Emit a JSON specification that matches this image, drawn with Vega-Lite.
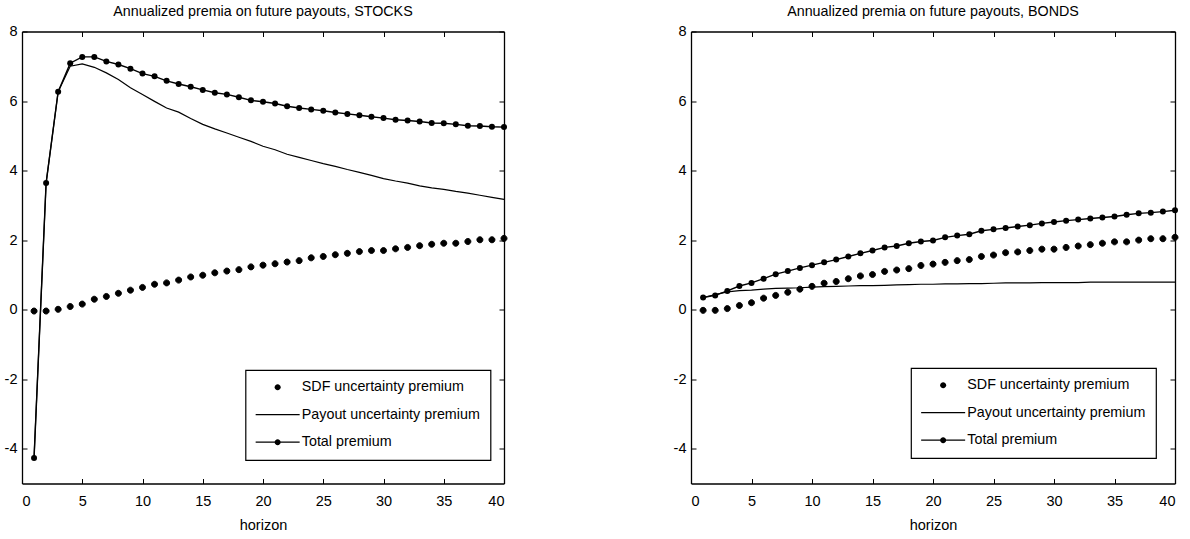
{
  "$schema": "https://vega.github.io/schema/vega-lite/v6.json",
  "padding": {"left": 4, "top": 4.5, "right": 5, "bottom": 0},
  "background": "white",
  "config": {
    "font": "Liberation Sans",
    "view": {"stroke": null},
    "axis": {
      "domainColor": "black", "domainWidth": 1.3, "tickColor": "black", "tickWidth": 1, "tickSize": -5,
      "labelColor": "black", "labelFontSize": 14.5, "labelFont": "Liberation Sans",
      "grid": false, "titleColor": "black", "titleFontSize": 14.5, "titleFontWeight": "normal",
      "titleFont": "Liberation Sans", "minExtent": 0
    },
    "title": {"fontSize": 14.3, "fontWeight": "normal", "color": "black", "font": "Liberation Sans", "anchor": "middle", "baseline": "alphabetic", "offset": 4.5},
    "legend": {
      "strokeColor": "black", "fillColor": "white", "strokeWidth": 1.2, "padding": 10,
      "labelFontSize": 14.3, "labelFont": "Liberation Sans", "labelColor": "black", "labelLimit": 300,
      "symbolSize": 100, "symbolStrokeColor": "black", "symbolFillColor": "black", "symbolStrokeWidth": 1.2, "symbolOpacity": 1,
      "symbolOffset": 15, "labelOffset": 17, "rowPadding": 12.5
    }
  },
  "resolve": {"scale": {"shape": "independent"}, "legend": {"shape": "independent"}},
  "data": {"values": [
    {"p":"STOCKS","h":1,"sdf":-0.04,"pay":-4.25,"tot":-4.27},
    {"p":"STOCKS","h":2,"sdf":-0.04,"pay":3.64,"tot":3.64},
    {"p":"STOCKS","h":3,"sdf":0.01,"pay":6.27,"tot":6.27},
    {"p":"STOCKS","h":4,"sdf":0.09,"pay":7.00,"tot":7.09},
    {"p":"STOCKS","h":5,"sdf":0.16,"pay":7.07,"tot":7.27},
    {"p":"STOCKS","h":6,"sdf":0.30,"pay":6.97,"tot":7.27},
    {"p":"STOCKS","h":7,"sdf":0.38,"pay":6.81,"tot":7.14},
    {"p":"STOCKS","h":8,"sdf":0.47,"pay":6.62,"tot":7.05},
    {"p":"STOCKS","h":9,"sdf":0.56,"pay":6.38,"tot":6.93},
    {"p":"STOCKS","h":10,"sdf":0.64,"pay":6.19,"tot":6.79},
    {"p":"STOCKS","h":11,"sdf":0.73,"pay":5.99,"tot":6.71},
    {"p":"STOCKS","h":12,"sdf":0.77,"pay":5.80,"tot":6.58},
    {"p":"STOCKS","h":13,"sdf":0.85,"pay":5.68,"tot":6.49},
    {"p":"STOCKS","h":14,"sdf":0.94,"pay":5.50,"tot":6.41},
    {"p":"STOCKS","h":15,"sdf":0.99,"pay":5.33,"tot":6.32},
    {"p":"STOCKS","h":16,"sdf":1.06,"pay":5.20,"tot":6.24},
    {"p":"STOCKS","h":17,"sdf":1.11,"pay":5.08,"tot":6.19},
    {"p":"STOCKS","h":18,"sdf":1.15,"pay":4.96,"tot":6.11},
    {"p":"STOCKS","h":19,"sdf":1.23,"pay":4.84,"tot":6.02},
    {"p":"STOCKS","h":20,"sdf":1.28,"pay":4.70,"tot":5.98},
    {"p":"STOCKS","h":21,"sdf":1.32,"pay":4.60,"tot":5.93},
    {"p":"STOCKS","h":22,"sdf":1.37,"pay":4.47,"tot":5.85},
    {"p":"STOCKS","h":23,"sdf":1.41,"pay":4.38,"tot":5.80},
    {"p":"STOCKS","h":24,"sdf":1.49,"pay":4.29,"tot":5.76},
    {"p":"STOCKS","h":25,"sdf":1.53,"pay":4.20,"tot":5.72},
    {"p":"STOCKS","h":26,"sdf":1.58,"pay":4.12,"tot":5.67},
    {"p":"STOCKS","h":27,"sdf":1.62,"pay":4.03,"tot":5.63},
    {"p":"STOCKS","h":28,"sdf":1.67,"pay":3.95,"tot":5.59},
    {"p":"STOCKS","h":29,"sdf":1.70,"pay":3.86,"tot":5.55},
    {"p":"STOCKS","h":30,"sdf":1.70,"pay":3.77,"tot":5.51},
    {"p":"STOCKS","h":31,"sdf":1.75,"pay":3.70,"tot":5.46},
    {"p":"STOCKS","h":32,"sdf":1.79,"pay":3.64,"tot":5.44},
    {"p":"STOCKS","h":33,"sdf":1.84,"pay":3.56,"tot":5.41},
    {"p":"STOCKS","h":34,"sdf":1.88,"pay":3.50,"tot":5.37},
    {"p":"STOCKS","h":35,"sdf":1.91,"pay":3.46,"tot":5.36},
    {"p":"STOCKS","h":36,"sdf":1.91,"pay":3.40,"tot":5.33},
    {"p":"STOCKS","h":37,"sdf":1.96,"pay":3.35,"tot":5.29},
    {"p":"STOCKS","h":38,"sdf":2.01,"pay":3.29,"tot":5.28},
    {"p":"STOCKS","h":39,"sdf":2.01,"pay":3.23,"tot":5.26},
    {"p":"STOCKS","h":40,"sdf":2.05,"pay":3.17,"tot":5.25},
    {"p":"BONDS","h":1,"sdf":-0.02,"pay":0.35,"tot":0.35},
    {"p":"BONDS","h":2,"sdf":-0.02,"pay":0.43,"tot":0.41},
    {"p":"BONDS","h":3,"sdf":0.03,"pay":0.51,"tot":0.54},
    {"p":"BONDS","h":4,"sdf":0.12,"pay":0.55,"tot":0.68},
    {"p":"BONDS","h":5,"sdf":0.20,"pay":0.56,"tot":0.77},
    {"p":"BONDS","h":6,"sdf":0.33,"pay":0.59,"tot":0.89},
    {"p":"BONDS","h":7,"sdf":0.41,"pay":0.61,"tot":1.02},
    {"p":"BONDS","h":8,"sdf":0.50,"pay":0.62,"tot":1.11},
    {"p":"BONDS","h":9,"sdf":0.59,"pay":0.63,"tot":1.20},
    {"p":"BONDS","h":10,"sdf":0.67,"pay":0.65,"tot":1.28},
    {"p":"BONDS","h":11,"sdf":0.76,"pay":0.66,"tot":1.36},
    {"p":"BONDS","h":12,"sdf":0.81,"pay":0.67,"tot":1.44},
    {"p":"BONDS","h":13,"sdf":0.89,"pay":0.68,"tot":1.53},
    {"p":"BONDS","h":14,"sdf":0.97,"pay":0.69,"tot":1.62},
    {"p":"BONDS","h":15,"sdf":1.01,"pay":0.69,"tot":1.70},
    {"p":"BONDS","h":16,"sdf":1.10,"pay":0.70,"tot":1.79},
    {"p":"BONDS","h":17,"sdf":1.14,"pay":0.71,"tot":1.83},
    {"p":"BONDS","h":18,"sdf":1.18,"pay":0.72,"tot":1.91},
    {"p":"BONDS","h":19,"sdf":1.27,"pay":0.73,"tot":1.96},
    {"p":"BONDS","h":20,"sdf":1.31,"pay":0.73,"tot":1.99},
    {"p":"BONDS","h":21,"sdf":1.36,"pay":0.74,"tot":2.08},
    {"p":"BONDS","h":22,"sdf":1.41,"pay":0.74,"tot":2.13},
    {"p":"BONDS","h":23,"sdf":1.44,"pay":0.75,"tot":2.17},
    {"p":"BONDS","h":24,"sdf":1.53,"pay":0.75,"tot":2.27},
    {"p":"BONDS","h":25,"sdf":1.57,"pay":0.76,"tot":2.31},
    {"p":"BONDS","h":26,"sdf":1.64,"pay":0.77,"tot":2.35},
    {"p":"BONDS","h":27,"sdf":1.66,"pay":0.77,"tot":2.39},
    {"p":"BONDS","h":28,"sdf":1.70,"pay":0.77,"tot":2.43},
    {"p":"BONDS","h":29,"sdf":1.74,"pay":0.78,"tot":2.48},
    {"p":"BONDS","h":30,"sdf":1.74,"pay":0.78,"tot":2.52},
    {"p":"BONDS","h":31,"sdf":1.79,"pay":0.78,"tot":2.56},
    {"p":"BONDS","h":32,"sdf":1.83,"pay":0.78,"tot":2.59},
    {"p":"BONDS","h":33,"sdf":1.87,"pay":0.79,"tot":2.62},
    {"p":"BONDS","h":34,"sdf":1.91,"pay":0.79,"tot":2.65},
    {"p":"BONDS","h":35,"sdf":1.95,"pay":0.79,"tot":2.68},
    {"p":"BONDS","h":36,"sdf":1.95,"pay":0.79,"tot":2.73},
    {"p":"BONDS","h":37,"sdf":2.00,"pay":0.79,"tot":2.77},
    {"p":"BONDS","h":38,"sdf":2.04,"pay":0.79,"tot":2.79},
    {"p":"BONDS","h":39,"sdf":2.04,"pay":0.79,"tot":2.82},
    {"p":"BONDS","h":40,"sdf":2.08,"pay":0.79,"tot":2.86}
  ]},
  "spacing": 164,
  "hconcat": [
    {
      "title": "Annualized premia on future payouts, STOCKS",
      "width": 482, "height": 452,
      "transform": [{"filter": "datum.p === 'STOCKS'"}],
      "resolve": {"axis": {"x": "independent", "y": "independent"}},
      "layer": [
        {
          "mark": {"type": "point", "filled": false, "fill": "black", "stroke": "black", "strokeWidth": 1, "opacity": 1, "fillOpacity": 1, "size": 100},
          "encoding": {
            "x": {"field": "h", "type": "quantitative", "scale": {"domain": [0, 40], "nice": false, "zero": false},
                  "axis": {"orient": "bottom", "values": [0,5,10,15,20,25,30,35,40], "title": "horizon", "labelPadding": 16, "titlePadding": 10.5, "minExtent": 0}},
            "y": {"field": "sdf", "type": "quantitative", "scale": {"domain": [-5, 8], "nice": false, "zero": false},
                  "axis": {"orient": "left", "values": [-4,-2,0,2,4,6,8], "title": null, "labelPadding": 10, "labelExpr": "datum.value", "minExtent": 0}},
            "shape": {"datum": "SDF uncertainty premium",
                      "scale": {"domain": ["SDF uncertainty premium", "Payout uncertainty premium", "Total premium"],
                                "range": ["M-0.6,0A0.6,0.6,0,1,1,0.6,0A0.6,0.6,0,1,1,-0.6,0Z", "M-4.4,-0.13L4.4,-0.13L4.4,0.13L-4.4,0.13Z", "M-4.4,-0.13L4.4,-0.13L4.4,0.13L-4.4,0.13ZM-0.6,0A0.6,0.6,0,1,1,0.6,0A0.6,0.6,0,1,1,-0.6,0Z"]},
                      "legend": {"orient": "none", "legendX": 223.5, "legendY": 338.5, "title": null,
                                 "encode": {"symbols": {"stroke": {"value": "black"}, "strokeWidth": {"value": 0.3}, "fill": {"value": "black"}, "fillOpacity": {"value": 1}, "opacity": {"value": 1}}}}}
          }
        },
        {
          "mark": {"type": "line", "color": "black", "strokeWidth": 1.2},
          "encoding": {
            "x": {"field": "h", "type": "quantitative", "scale": {"domain": [0, 40], "nice": false, "zero": false},
                  "axis": {"orient": "top", "values": [0,5,10,15,20,25,30,35,40], "labels": false, "title": null, "minExtent": 0}},
            "y": {"field": "pay", "type": "quantitative", "scale": {"domain": [-5, 8], "nice": false, "zero": false},
                  "axis": {"orient": "right", "values": [-4,-2,0,2,4,6,8], "labels": false, "title": null, "minExtent": 0}}
          }
        },
        {
          "mark": {"type": "line", "color": "black", "strokeWidth": 1.4},
          "encoding": {
            "x": {"field": "h", "type": "quantitative", "scale": {"domain": [0, 40], "nice": false, "zero": false}, "axis": null},
            "y": {"field": "tot", "type": "quantitative", "scale": {"domain": [-5, 8], "nice": false, "zero": false}, "axis": null}
          }
        },
        {
          "mark": {"type": "circle", "color": "black", "opacity": 1, "size": 36},
          "encoding": {
            "x": {"field": "h", "type": "quantitative", "scale": {"domain": [0, 40], "nice": false, "zero": false}, "axis": null},
            "y": {"field": "tot", "type": "quantitative", "scale": {"domain": [-5, 8], "nice": false, "zero": false}, "axis": null}
          }
        }
      ]
    },
    {
      "title": "Annualized premia on future payouts, BONDS",
      "width": 484, "height": 452,
      "transform": [{"filter": "datum.p === 'BONDS'"}],
      "resolve": {"axis": {"x": "independent", "y": "independent"}},
      "layer": [
        {
          "mark": {"type": "point", "filled": false, "fill": "black", "stroke": "black", "strokeWidth": 1, "opacity": 1, "fillOpacity": 1, "size": 100},
          "encoding": {
            "x": {"field": "h", "type": "quantitative", "scale": {"domain": [0, 40], "nice": false, "zero": false},
                  "axis": {"orient": "bottom", "values": [0,5,10,15,20,25,30,35,40], "title": "horizon", "labelPadding": 16, "titlePadding": 10.5, "minExtent": 0}},
            "y": {"field": "sdf", "type": "quantitative", "scale": {"domain": [-5, 8], "nice": false, "zero": false},
                  "axis": {"orient": "left", "values": [-4,-2,0,2,4,6,8], "title": null, "labelPadding": 10, "labelExpr": "datum.value", "minExtent": 0}},
            "shape": {"datum": "SDF uncertainty premium",
                      "scale": {"domain": ["SDF uncertainty premium", "Payout uncertainty premium", "Total premium"],
                                "range": ["M-0.6,0A0.6,0.6,0,1,1,0.6,0A0.6,0.6,0,1,1,-0.6,0Z", "M-4.4,-0.13L4.4,-0.13L4.4,0.13L-4.4,0.13Z", "M-4.4,-0.13L4.4,-0.13L4.4,0.13L-4.4,0.13ZM-0.6,0A0.6,0.6,0,1,1,0.6,0A0.6,0.6,0,1,1,-0.6,0Z"]},
                      "legend": {"orient": "none", "legendX": 220, "legendY": 336.5, "title": null,
                                 "encode": {"symbols": {"stroke": {"value": "black"}, "strokeWidth": {"value": 0.3}, "fill": {"value": "black"}, "fillOpacity": {"value": 1}, "opacity": {"value": 1}}}}}
          }
        },
        {
          "mark": {"type": "line", "color": "black", "strokeWidth": 1.2},
          "encoding": {
            "x": {"field": "h", "type": "quantitative", "scale": {"domain": [0, 40], "nice": false, "zero": false},
                  "axis": {"orient": "top", "values": [0,5,10,15,20,25,30,35,40], "labels": false, "title": null, "minExtent": 0}},
            "y": {"field": "pay", "type": "quantitative", "scale": {"domain": [-5, 8], "nice": false, "zero": false},
                  "axis": {"orient": "right", "values": [-4,-2,0,2,4,6,8], "labels": false, "title": null, "minExtent": 0}}
          }
        },
        {
          "mark": {"type": "line", "color": "black", "strokeWidth": 1.4},
          "encoding": {
            "x": {"field": "h", "type": "quantitative", "scale": {"domain": [0, 40], "nice": false, "zero": false}, "axis": null},
            "y": {"field": "tot", "type": "quantitative", "scale": {"domain": [-5, 8], "nice": false, "zero": false}, "axis": null}
          }
        },
        {
          "mark": {"type": "circle", "color": "black", "opacity": 1, "size": 36},
          "encoding": {
            "x": {"field": "h", "type": "quantitative", "scale": {"domain": [0, 40], "nice": false, "zero": false}, "axis": null},
            "y": {"field": "tot", "type": "quantitative", "scale": {"domain": [-5, 8], "nice": false, "zero": false}, "axis": null}
          }
        }
      ]
    }
  ]
}
